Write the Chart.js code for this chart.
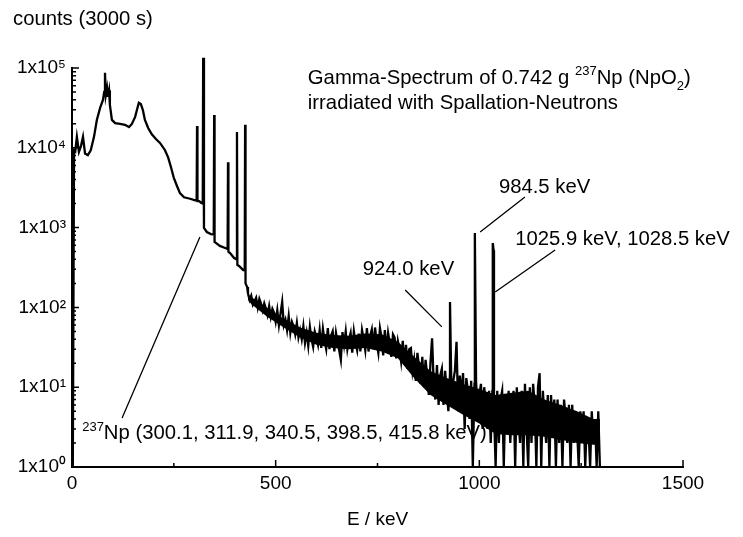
<!DOCTYPE html>
<html>
<head>
<meta charset="utf-8">
<script src="https://cdn.jsdelivr.net/npm/chart.js@4.4.1/dist/chart.umd.min.js"></script>
<style>
  html, body { margin: 0; padding: 0; background: #fff; }
  #wrap { width: 743px; height: 537px; position: relative; }
</style>
</head>
<body>
<div id="wrap"><canvas id="spectrum"></canvas></div>
<script>
// Values (keV, counts per channel in 3000 s).
// Smooth low-energy part incl. the 237Np lines.
const lowEnergy = [2, 5, 8, 12, 17, 22, 27, 32, 39, 46,
    54, 61, 69, 76, 79, 81, 83, 86, 88, 91,
    93, 98, 106, 118, 130, 140, 147, 155, 160, 164,
    169, 174, 179, 187, 196, 206, 216, 228, 236, 243,
    250, 258, 265, 275, 290, 302, 306, 307, 308, 312,
    317, 321, 322, 324, 331, 341, 348, 349, 350, 354,
    363, 376, 382, 383, 384, 388, 398, 404, 405, 406,
    410, 420, 424, 425, 426, 430];
const lowCounts = [1, 9300, 9000, 13700, 8900, 10500, 13700, 8500, 8100, 9300,
    13700, 22300, 31600, 39800, 50000, 87000, 45700, 56000, 43500, 52500,
    34500, 22400, 20400, 19900, 19400, 18200, 19900, 24400, 30700, 36600,
    35300, 29700, 22300, 17700, 14800, 12900, 11500, 9400, 7600, 5700,
    4200, 3300, 2700, 2400, 2300, 2200, 2200, 18700, 2150, 2150,
    2050, 2000, 134000, 990, 880, 830, 820, 25700, 660, 640,
    590, 555, 540, 6600, 500, 480, 415, 400, 15800, 340,
    330, 295, 290, 19400, 200, 180];

// Noisy continuum, one value per 4 keV channel group starting at 432 keV.
const noiseStart = 432;
const noiseStep = 4;
const noiseCounts = [
    150, 124, 140, 108, 118, 132, 100, 128, 112, 92,   // 432
    112, 96, 80, 104, 76, 96, 86, 66, 92, 60,          // 472
    84, 117, 60, 70, 52, 78, 48, 66, 58, 46,           // 512
    64, 42, 52, 40, 58, 36, 48, 33, 57, 40,            // 552
    32, 50, 42, 34, 52, 31, 54, 38, 30, 55,            // 592
    30, 44, 50, 28, 48, 36, 29, 22, 49, 34,            // 632
    50, 30, 40, 48, 27, 50, 36, 29, 47, 28,            // 672
    52, 40, 29, 55, 28, 44, 53, 30, 56, 36,            // 712
    27, 55, 42, 25, 52, 28, 48, 36, 24, 46,            // 752
    42, 23, 38, 30, 21, 38, 19, 34, 17, 30,            // 792
    31, 16, 22, 12, 27, 18, 11, 24, 10, 22,            // 832
    14, 8, 20, 41, 11, 7, 19, 6, 14, 17,               // 872
    6, 16, 9, 5, 15, 6, 12, 16, 37, 5,                 // 912
    14, 8, 15, 3, 13, 9, 4, 12, 1, 11,                 // 952
    12, 4, 8, 11, 3, 10, 6, 3, 9, 2,                   // 992
    9, 5, 1, 9, 2, 7, 9, 1, 8, 3,                      // 1032
    9, 2, 6, 9, 1, 10, 4, 2, 9, 1,                     // 1072
    11, 3, 1, 10, 2, 11, 6, 1, 10, 15,                 // 1112
    1, 9, 4, 2, 8, 1, 8, 3, 7, 1,                      // 1152
    7, 2, 6, 1, 7, 4, 2, 6, 1, 6,                      // 1192
    2, 5, 3, 1, 5, 2, 5, 1, 4, 3,                      // 1232
    1, 5, 2, 4, 1, 5, 1                                // 1272
];

// Solid core of the noise band (channels too dense to resolve in the scan).
const bandEnergy = [432, 440, 480, 520, 560, 600, 640, 680, 720, 760,
    800, 840, 880, 920, 960, 1000, 1040, 1080, 1120, 1160,
    1200, 1240, 1280, 1296];
const bandTop = [145, 135, 98, 72, 56, 48, 45, 44, 47, 46,
    37, 24, 16, 13, 11, 9.5, 8, 8.5, 9, 7,
    6, 5, 4, 4];
const bandBottom = [125, 110, 76, 56, 42, 34, 31, 30, 31, 28,
    23, 13, 8, 6, 4.5, 3.5, 2.6, 2.5, 2.5, 2.4,
    2.2, 2, 1.9, 1.9];

// Sharp lines sitting on the noisy part.
const peakEnergy = [928, 989, 1033, 1035];
const peakCounts = [117, 855, 640, 520];

const xTickValues = [0, 500, 1000, 1500];
const yTickValues = [1, 10, 100, 1000, 10000, 100000];
const yTickLabels = ['1x10⁰', '1x10¹', '1x10²', '1x10³', '1x10⁴', '1x10⁵'];

const points = [];
lowEnergy.forEach((e, i) => points.push({ x: e, y: lowCounts[i] }));
noiseCounts.forEach((c, i) => points.push({ x: noiseStart + i * noiseStep, y: c }));
peakEnergy.forEach((e, i) => points.push({ x: e, y: peakCounts[i] }));
points.sort((a, b) => a.x - b.x);

const FAMILY = 'Arial, "Liberation Sans", sans-serif';
const SIZE = 19;      // axis text
const NOTE_SIZE = 20.3; // annotation text (scan is slightly wide)

// text labels, anchored in data space (left edge, baseline)
const notes = [
    { x: 579, y: 63000, parts: [['Gamma-Spectrum of 0.742 g ', 0], ['237', 1], ['Np (NpO', 0], ['2', -1], [')', 0]] },
    { x: 579, y: 30600, parts: [['irradiated with Spallation-Neutrons', 0]] },
    { x: 1048, y: 2716, parts: [['984.5 keV', 0]] },
    { x: 1088, y: 605, parts: [['1025.9 keV, 1028.5 keV', 0]] },
    { x: 714, y: 255, parts: [['924.0 keV', 0]] },
    { x: 25, y: 2.24, parts: [['237', 1], ['Np (300.1, 311.9, 340.5, 398.5, 415.8 keV)', 0]] },
];
const leaders = [
    [1112, 2417, 1002, 881],
    [1186, 524, 1039, 156],
    [818, 165, 908, 57],
    [123, 4.11, 314, 762],
];

function drawRich(ctx, x, y, parts, size) {
    let cx = x;
    parts.forEach(([t, k]) => {
        const s = k ? Math.round(size * 0.66) : size;
        ctx.font = s + 'px ' + FAMILY;
        const dy = k > 0 ? -size * 0.42 : k < 0 ? size * 0.28 : 0;
        ctx.fillText(t, cx, y + dy);
        cx += ctx.measureText(t).width;
    });
}

const notesPlugin = {
    id: 'notes',
    afterDraw(chart) {
        const { ctx, chartArea: a, scales: { x, y } } = chart;
        ctx.save();
        ctx.fillStyle = '#000';
        ctx.strokeStyle = '#000';
        ctx.textBaseline = 'alphabetic';
        ctx.textAlign = 'left';

        // inward axis ticks
        ctx.lineWidth = 1.5;
        ctx.beginPath();
        for (let d = 0; d < 5; d++) {
            for (let m = 1; m < 10; m++) {
                const py = y.getPixelForValue(m * Math.pow(10, d));
                ctx.moveTo(a.left, py);
                ctx.lineTo(a.left + (m === 1 ? 7 : 4), py);
            }
        }
        const top = y.getPixelForValue(100000);
        ctx.moveTo(a.left, top);
        ctx.lineTo(a.left + 7, top);
        [0, 250, 500, 750, 1000, 1250, 1500].forEach((v, i) => {
            const px = x.getPixelForValue(v);
            ctx.moveTo(px, a.bottom);
            ctx.lineTo(px, a.bottom - (i % 2 ? 4 : 7));
        });
        ctx.stroke();

        // y-axis caption
        drawRich(ctx, a.left - 59, a.top - 43, [['counts (3000 s)', 0]], NOTE_SIZE);

        ctx.lineWidth = 1.3;
        ctx.beginPath();
        leaders.forEach(([x1, y1, x2, y2]) => {
            ctx.moveTo(x.getPixelForValue(x1), y.getPixelForValue(y1));
            ctx.lineTo(x.getPixelForValue(x2), y.getPixelForValue(y2));
        });
        ctx.stroke();

        notes.forEach(n => drawRich(ctx, x.getPixelForValue(n.x), y.getPixelForValue(n.y), n.parts, NOTE_SIZE));
        ctx.restore();
    }
};

new Chart(document.getElementById('spectrum'), {
    type: 'line',
    data: {
        datasets: [{
            data: points,
            borderColor: '#000',
            borderWidth: 2.3,
            pointRadius: 0,
            tension: 0,
            clip: false,
        }, {
            data: bandEnergy.map((e, i) => ({ x: e, y: bandTop[i] })),
            borderWidth: 0,
            borderColor: 'rgba(0,0,0,0)',
            backgroundColor: '#000',
            pointRadius: 0,
            tension: 0,
            fill: 2,
        }, {
            data: bandEnergy.map((e, i) => ({ x: e, y: bandBottom[i] })),
            borderWidth: 0,
            borderColor: 'rgba(0,0,0,0)',
            pointRadius: 0,
            tension: 0,
            fill: false,
        }],
    },
    options: {
        responsive: true,
        maintainAspectRatio: false,
        animation: false,
        events: [],
        layout: { padding: { top: 68, right: 60, bottom: 0, left: 0 } },
        plugins: {
            legend: { display: false },
            tooltip: { enabled: false },
        },
        scales: {
            x: {
                type: 'linear',
                min: 0,
                max: 1500,
                afterFit: s => { s.height = 70; },
                afterBuildTicks: s => { s.ticks = xTickValues.map(v => ({ value: v })); },
                grid: { display: false, drawTicks: false },
                border: { color: '#000', width: 2 },
                ticks: {
                    color: '#000',
                    font: { family: FAMILY, size: SIZE },
                    padding: 5,
                    maxRotation: 0,
                    autoSkip: false,
                    callback: v => String(v),
                },
                title: { display: true, text: 'E / keV', color: '#000', font: { family: FAMILY, size: SIZE }, padding: { top: 4, bottom: 6 } },
            },
            y: {
                type: 'logarithmic',
                min: 1,
                max: 100000,
                afterFit: s => { s.width = 72; },
                afterBuildTicks: s => { s.ticks = yTickValues.map(v => ({ value: v })); },
                grid: { display: false, drawTicks: false },
                border: { color: '#000', width: 2 },
                ticks: {
                    color: '#000',
                    font: { family: FAMILY, size: SIZE },
                    padding: 6,
                    autoSkip: false,
                    callback: (v, i) => yTickLabels[i],
                },
            },
        },
    },
    plugins: [notesPlugin],
});
</script>
</body>
</html>
